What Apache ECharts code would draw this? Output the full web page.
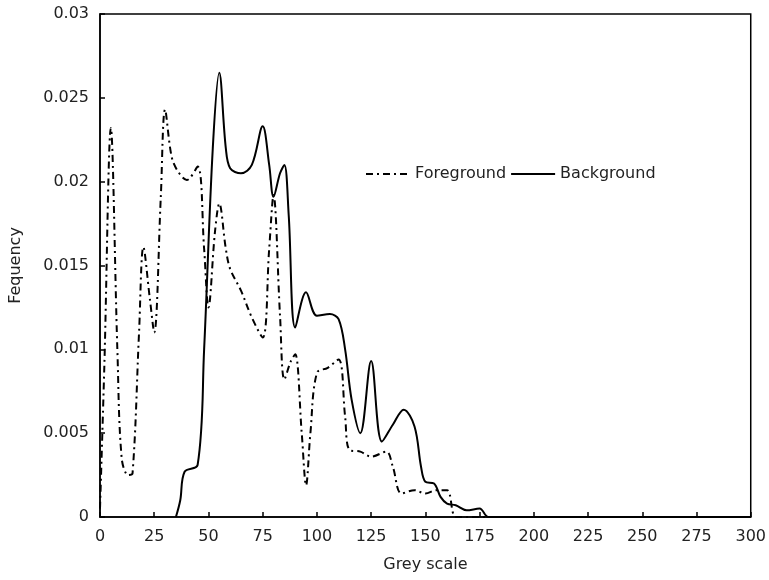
<!DOCTYPE html>
<html>
<head>
<meta charset="utf-8">
<script src="https://cdn.jsdelivr.net/npm/echarts@6/dist/echarts.min.js"></script>
<style>
  html, body { margin: 0; padding: 0; background: #fff; }
  #chart { width: 769px; height: 580px; }
</style>
</head>
<body>
<div id="chart"></div>
<script>
// grey levels and frequencies
const fgGrey = [0, 2, 5, 8, 10, 13, 15, 18, 20, 23, 25, 28, 30, 33, 36, 40, 45, 48, 50, 53, 55, 58, 60, 65, 70, 75, 78, 80, 83, 85, 88, 90, 93, 95, 97, 100, 105, 110, 113, 115, 120, 125, 132, 135, 139, 145, 150, 155, 160, 164, 170, 300]
const fgFreq = [0.0005, 0.009, 0.0232, 0.010, 0.0035, 0.0025, 0.0026, 0.011, 0.0161, 0.013, 0.011, 0.019, 0.0243, 0.0215, 0.0206, 0.0201, 0.0209, 0.016, 0.0125, 0.017, 0.0187, 0.016, 0.0148, 0.0135, 0.0119, 0.0107, 0.016, 0.0192, 0.012, 0.0082, 0.0093, 0.0097, 0.005, 0.0019, 0.005, 0.0086, 0.0089, 0.0094, 0.006, 0.004, 0.0039, 0.0036, 0.0039, 0.003, 0.0014, 0.0016, 0.0014, 0.0016, 0.0016, 0, 0, 0]

const bgGrey = [35, 37, 39, 45, 48, 52, 55, 58, 60, 65, 70, 75, 78, 80, 83, 85, 87, 90, 95, 100, 106, 110, 113, 116, 120, 125, 130, 135, 140, 145, 148, 150, 154, 157, 160, 164, 169, 175, 179, 185, 300]
const bgFreq = [0, 0.001, 0.0027, 0.0031, 0.010, 0.022, 0.0265, 0.022, 0.0208, 0.0205, 0.021, 0.0233, 0.021, 0.0191, 0.0205, 0.021, 0.018, 0.0113, 0.0134, 0.012, 0.0121, 0.0118, 0.010, 0.007, 0.005, 0.0093, 0.0045, 0.0055, 0.0064, 0.0054, 0.003, 0.0021, 0.002, 0.0012, 0.0008, 0.0007, 0.0004, 0.0005, 0, 0, 0]

const toPairs = (xs, ys) => xs.map((x, i) => [x, ys[i]])

const myChart = echarts.init(document.getElementById('chart'))
const font = 'DejaVu Sans'
const option = {
  animation: false,
  textStyle: { fontFamily: font, color: '#222' },
  grid: {
    left: 100,
    right: 17,
    top: 14,
    bottom: 63,
    show: true,
    borderColor: '#000',
    borderWidth: 1.5
  },
  legend: {
    left: 360,
    top: 161,
    itemWidth: 44,
    itemHeight: 14,
    itemGap: 4,
    itemStyle: { opacity: 0 },
    textStyle: { fontFamily: font, fontSize: 16, color: '#222' },
    data: ['Foreground', 'Background']
  },
  xAxis: {
    type: 'value',
    min: 0,
    max: 300,
    interval: 25,
    name: 'Grey scale',
    nameLocation: 'middle',
    nameGap: 40,
    nameTextStyle: { fontFamily: font, fontSize: 16, color: '#222' },
    axisLine: { lineStyle: { color: '#000', width: 1.5 } },
    axisTick: { inside: true, length: 5, lineStyle: { color: '#000', width: 1.5 } },
    axisLabel: { fontFamily: font, fontSize: 16, color: '#222', margin: 12 },
    splitLine: { show: false }
  },
  yAxis: {
    type: 'value',
    min: 0,
    max: 0.03,
    interval: 0.005,
    name: 'Fequency',
    nameLocation: 'middle',
    nameGap: 76,
    nameTextStyle: { fontFamily: font, fontSize: 16, color: '#222' },
    axisLine: { show: true, lineStyle: { color: '#000', width: 1.5 } },
    axisTick: { show: true, inside: true, length: 5, lineStyle: { color: '#000', width: 1.5 } },
    axisLabel: {
      fontFamily: font,
      fontSize: 16,
      color: '#222',
      margin: 11,
      formatter: v => String(+v.toFixed(3))
    },
    splitLine: { show: false }
  },
  series: [
    {
      name: 'Foreground',
      type: 'line',
      smooth: 0.35,
      symbol: 'none',
      data: toPairs(fgGrey, fgFreq),
      lineStyle: { color: '#000', width: 2, type: [7, 4, 2, 4] },
      itemStyle: { color: '#000' }
    },
    {
      name: 'Background',
      type: 'line',
      smooth: 0.35,
      symbol: 'none',
      data: toPairs(bgGrey, bgFreq),
      lineStyle: { color: '#000', width: 2 },
      itemStyle: { color: '#000' }
    }
  ]
}
myChart.setOption(option)
</script>
</body>
</html>
